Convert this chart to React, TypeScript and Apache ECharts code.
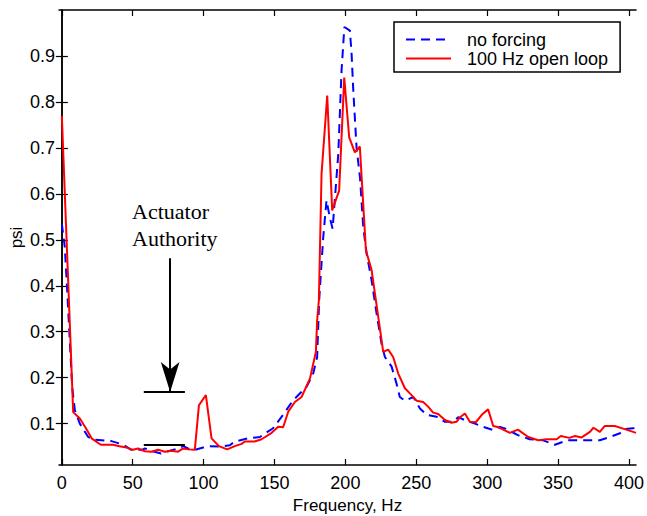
import React, { useEffect, useRef } from "react";
import * as echarts from "echarts";

// Spectrum without forcing (blue dashed)
const freqNoForcing = [
  0, 2.1, 4, 7.3, 9.2, 12.7, 18.6, 22, 28, 35, 43.5, 49, 56.5, 58.6, 64, 70, 75, 82, 85.6, 89, 93.8,
  99.7, 104.4, 111.5, 118.5, 122, 131.4, 139.7, 149, 156, 163.2, 172.6, 177.3, 180.1, 181.5, 184.4,
  186.7, 189, 191, 195, 197.3, 199.3, 203.2, 204.4, 205.5, 207.9, 210.3, 212.6, 215, 218.5, 222,
  225.5, 227.9, 232.6, 236.1, 238.4, 242, 247.9, 252.6, 257.3, 264.4, 270.2, 276.1, 279.6, 285.5,
  291.4, 297.2, 304.3, 309, 313, 321.7, 330, 339, 347.8, 356.5, 368, 379.5, 386.6, 393.7, 397, 403, 405,
];
const psiNoForcing = [
  0.535, 0.484, 0.376, 0.18, 0.129, 0.1, 0.071, 0.065, 0.064, 0.062, 0.054, 0.043, 0.043, 0.046, 0.04,
  0.035, 0.04, 0.046, 0.051, 0.046, 0.043, 0.048, 0.051, 0.05, 0.053, 0.061, 0.068, 0.071, 0.09, 0.119,
  0.151, 0.18, 0.209, 0.245, 0.368, 0.506, 0.586, 0.549, 0.524, 0.687, 0.868, 0.963, 0.955, 0.904, 0.83,
  0.7, 0.636, 0.528, 0.47, 0.412, 0.34, 0.274, 0.245, 0.224, 0.187, 0.158, 0.15, 0.158, 0.133, 0.119,
  0.115, 0.104, 0.104, 0.114, 0.106, 0.1, 0.093, 0.086, 0.093, 0.089, 0.075, 0.066, 0.064, 0.054, 0.064,
  0.064, 0.064, 0.071, 0.079, 0.088, 0.09, 0.09,
];

// Spectrum with 100 Hz open-loop forcing (red solid)
const freqOpenLoop = [
  0, 8, 12.7, 17, 21, 27.5, 36, 40.6, 45.6, 50.1, 53.8, 58.6, 63.3, 67.9, 72.7, 77.4, 82, 85.6, 89.1,
  93.8, 96.7, 101.6, 105.6, 110.8, 116.6, 122, 126.8, 129, 136, 140.9, 148, 152.6, 156.1, 159.7, 164.4,
  169.1, 175, 179.2, 180.1, 181.3, 183.2, 187.2, 190.7, 195.6, 199.2, 202.7, 206.7, 210.2, 214.5, 218.5,
  226.7, 230.2, 233.7, 237.3, 242, 246.7, 250.2, 254.9, 258.4, 261.9, 265.5, 270.2, 274.9, 278.4, 280.9,
  284.3, 287.8, 292, 296.8, 300.7, 304.3, 308, 316, 321.7, 329, 336, 342, 349, 352, 358, 362, 366.7,
  372.5, 375, 379.5, 383, 390, 397, 403, 405,
];
const psiOpenLoop = [
  0.77, 0.125, 0.111, 0.09, 0.068, 0.054, 0.054, 0.051, 0.048, 0.043, 0.046, 0.04, 0.039, 0.043, 0.039,
  0.041, 0.039, 0.046, 0.044, 0.043, 0.14, 0.162, 0.068, 0.051, 0.044, 0.051, 0.056, 0.061, 0.061, 0.066,
  0.08, 0.093, 0.092, 0.126, 0.147, 0.158, 0.198, 0.256, 0.325, 0.368, 0.644, 0.814, 0.564, 0.607, 0.853,
  0.723, 0.69, 0.703, 0.477, 0.434, 0.256, 0.261, 0.245, 0.209, 0.177, 0.162, 0.15, 0.147, 0.137, 0.124,
  0.121, 0.108, 0.102, 0.104, 0.114, 0.122, 0.104, 0.103, 0.121, 0.131, 0.095, 0.092, 0.08, 0.087, 0.071,
  0.064, 0.066, 0.066, 0.073, 0.069, 0.073, 0.07, 0.082, 0.091, 0.082, 0.095, 0.095, 0.088, 0.082, 0.08,
];

const xTicks = [0, 50, 100, 150, 200, 250, 300, 350, 400];
const yTicks = [0.1, 0.2, 0.3, 0.4, 0.5, 0.6, 0.7, 0.8, 0.9];

// "Actuator Authority" annotation (Hz, psi)
const authorityBand = { fromHz: 57.8, toHz: 86.8, low: 0.053, high: 0.169 };
const arrowHz = 76.4;
const arrowTop = 0.46;

const SANS = "'Liberation Sans', Arial, Helvetica, sans-serif";

export default function App() {
  const ref = useRef<HTMLDivElement>(null);

  useEffect(() => {
    if (!ref.current) return;
    const chart = echarts.init(ref.current, null, { renderer: "svg" });

    const pairs = (xs: number[], ys: number[]) => xs.map((x, i) => [x, ys[i]]);

    const frameAxisLine = { show: true, lineStyle: { color: "#000", width: 1.5 } };
    const tickStyle = (vals: number[]) => ({
      show: true,
      inside: true,
      length: 6,
      customValues: vals,
      lineStyle: { color: "#000", width: 1.2 },
    });

    chart.setOption({
      animation: false,
      backgroundColor: "#fff",
      grid: { left: 59, right: 11, top: 10, bottom: 51, containLabel: false, outerBoundsMode: "none" },
      legend: {
        orient: "vertical",
        left: 394,
        top: 22,
        padding: [8, 12, 4, 11],
        itemGap: 0,
        itemWidth: 45,
        itemHeight: 14,
        borderColor: "#000",
        borderWidth: 1.5,
        backgroundColor: "#fff",
        itemStyle: { opacity: 0, borderWidth: 0 },
        textStyle: { fontFamily: SANS, fontSize: 18, color: "#000", lineHeight: 19, padding: [0, 0, 0, 11] },
        data: ["no forcing", "100 Hz open loop"],
      },
      xAxis: [
        {
          type: "value",
          min: -2,
          max: 405,
          name: "Frequency, Hz",
          nameLocation: "middle",
          nameGap: 32,
          nameMoveOverlap: false,
          nameTextStyle: { fontFamily: SANS, fontSize: 17, color: "#000" },
          axisLine: frameAxisLine,
          axisTick: tickStyle(xTicks),
          axisLabel: {
            customValues: xTicks,
            margin: 9,
            fontFamily: SANS,
            fontSize: 18,
            color: "#000",
          },
          splitLine: { show: false },
        },
        {
          type: "value",
          position: "top",
          min: -2,
          max: 405,
          axisLine: frameAxisLine,
          axisTick: tickStyle(xTicks),
          axisLabel: { show: false },
          splitLine: { show: false },
        },
      ],
      yAxis: [
        {
          type: "value",
          min: 0.01,
          max: 1.0,
          name: "psi",
          nameLocation: "middle",
          nameGap: 34,
          nameMoveOverlap: false,
          nameRotate: 90,
          nameTextStyle: { fontFamily: SANS, fontSize: 17, color: "#000" },
          axisLine: frameAxisLine,
          axisTick: tickStyle(yTicks),
          axisLabel: {
            customValues: yTicks,
            margin: 4,
            fontFamily: SANS,
            fontSize: 18,
            color: "#000",
            formatter: (v: number) => v.toFixed(1),
          },
          splitLine: { show: false },
        },
        {
          type: "value",
          position: "right",
          min: 0.01,
          max: 1.0,
          axisLine: frameAxisLine,
          axisTick: tickStyle(yTicks),
          axisLabel: { show: false },
          splitLine: { show: false },
        },
      ],
      series: [
        {
          name: "no forcing",
          type: "line",
          xAxisIndex: 0,
          yAxisIndex: 0,
          data: pairs(freqNoForcing, psiNoForcing),
          showSymbol: false,
          symbol: "none",
          lineStyle: { color: "#0000ff", width: 2, type: [9, 6] },
          itemStyle: { color: "#0000ff" },
          z: 2,
        },
        {
          name: "100 Hz open loop",
          type: "line",
          xAxisIndex: 0,
          yAxisIndex: 0,
          data: pairs(freqOpenLoop, psiOpenLoop),
          showSymbol: false,
          symbol: "none",
          lineStyle: { color: "#ff0000", width: 2, type: "solid" },
          itemStyle: { color: "#ff0000" },
          z: 3,
          markLine: {
            silent: true,
            symbol: ["none", "none"],
            label: { show: false },
            lineStyle: { color: "#000", width: 2, type: "solid" },
            data: [
              [
                { coord: [authorityBand.fromHz, authorityBand.high] },
                { coord: [authorityBand.toHz, authorityBand.high] },
              ],
              [
                { coord: [authorityBand.fromHz, authorityBand.low] },
                { coord: [authorityBand.toHz, authorityBand.low] },
              ],
              [
                { coord: [arrowHz, arrowTop], symbol: "none" },
                { coord: [arrowHz, authorityBand.high], symbol: "arrow", symbolSize: [14, 30] },
              ],
            ],
          },
        },
      ],
      graphic: [
        {
          type: "text",
          left: 132,
          top: 198,
          style: {
            text: "Actuator\nAuthority",
            fontFamily: "'Liberation Serif', 'Times New Roman', serif",
            fontSize: 22,
            lineHeight: 27,
            fill: "#000",
          },
        },
      ],
    });

    return () => chart.dispose();
  }, []);

  return (
    <div
      ref={ref}
      style={{ position: "fixed", left: 0, top: 0, width: 647, height: 516, background: "#fff" }}
    />
  );
}
